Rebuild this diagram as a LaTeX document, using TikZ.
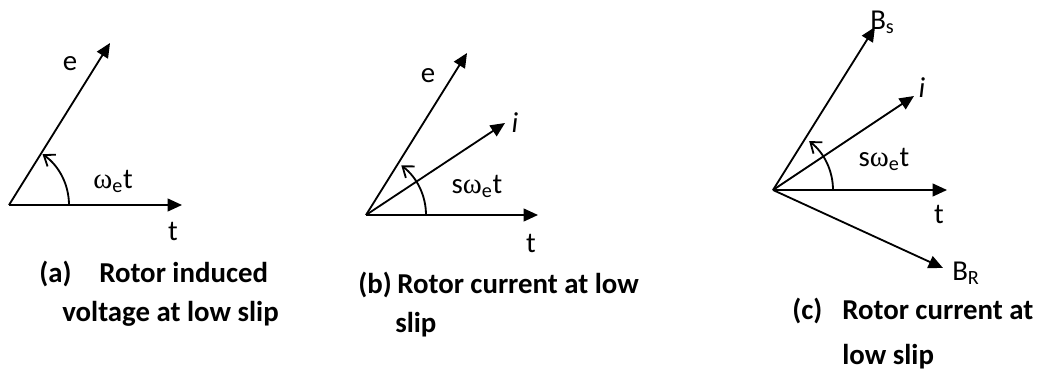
\documentclass[tikz,border=0pt]{standalone}
\usepackage{fontspec}
\setmainfont{Carlito}
\newfontfamily\greekfont{Liberation Serif}
\usetikzlibrary{arrows.meta, positioning}
\newcommand{\omegae}{{\greekfont ω}\textsubscript{e}}
\tikzset{
	phasor/.style ={-{Triangle[length=3.6mm, width=3.2mm]}, line width=1.3pt},
	angarc/.style ={-{Straight Barb[length=2.4mm, width=3.6mm]}, line width=1.3pt},
	lbl/.style    ={inner sep=0pt, anchor=base, font=\fontsize{20.5}{24}\selectfont},
	capline/.style={inner sep=0pt, anchor=base west, font=\fontsize{20.5}{24}\selectfont\bfseries},
}

\begin{document}
\begin{tikzpicture}[x=0.025cm, y=-0.025cm]
	\useasboundingbox (0,0) rectangle (1037,375);
	% (a) induced voltage
	\coordinate (oA) at (9,205);
	\coordinate (eA) at (110,43);
	\coordinate (tA) at (182,205);
	\draw[phasor] (oA) -- (eA);
	\draw[phasor] (oA) -- (tA);
	\draw[angarc] (oA) ++(60,0) arc[start angle=0, end angle=55, radius=1.55cm];
	\node[lbl] (eAl) at (70,70) {e};
	\node[lbl] (tAl) at (173,240) {t};
	\node[lbl] (wA) at (113,188) {\omegae t};
	\node[capline] (capA) at (39,282) {(a)};
	\node[capline] (capA1) at (99,282) {Rotor induced};
	\node[capline] (capA2) at (62,321) {voltage at low slip};
	% (b) rotor current
	\coordinate (oB) at (366,215);
	\coordinate (eB) at (467,53);
	\coordinate (iB) at (505,123);
	\coordinate (tB) at (538,215);
	\draw[phasor] (oB) -- (eB);
	\draw[phasor] (oB) -- (iB);
	\draw[phasor] (oB) -- (tB);
	\draw[angarc] (oB) ++(60,0) arc[start angle=0, end angle=53, radius=1.55cm];
	\node[lbl] (eBl) at (428,82) {e};
	\node[lbl] (iBl) at (515,132) {\itshape i};
	\node[lbl] (tBl) at (531,252) {t};
	\node[lbl] (wB) at (477,193) {s\omegae t};
	\node[capline] (capB) at (358,293) {(b)};
	\node[capline] (capB1) at (397,293) {Rotor current at low};
	\node[capline] (capB2) at (395,332) {slip};
	% (c) field vectors
	\coordinate (oC) at (773,190);
	\coordinate (bsC) at (875,27);
	\coordinate (iC) at (914,96);
	\coordinate (tC) at (947,190);
	\coordinate (brC) at (943,268);
	\draw[phasor] (oC) -- (bsC);
	\draw[phasor] (oC) -- (iC);
	\draw[phasor] (oC) -- (tC);
	\draw[phasor] (oC) -- (brC);
	\draw[angarc] (oC) ++(60,0) arc[start angle=0, end angle=52, radius=1.55cm];
	\node[lbl, anchor=base west] (bsCl) at (870,29) {B\textsubscript{s}};
	\node[lbl] (iCl) at (922,97) {\itshape i};
	\node[lbl] (tCl) at (939,223) {t};
	\node[lbl, anchor=base west] (brCl) at (952,280) {B\textsubscript{R}};
	\node[lbl] (wC) at (884,166) {s\omegae t};
	\node[capline] (capC) at (792,319) {(c)};
	\node[capline] (capC1) at (842,319) {Rotor current at};
	\node[capline] (capC2) at (842,364) {low slip};
\end{tikzpicture}
\end{document}
